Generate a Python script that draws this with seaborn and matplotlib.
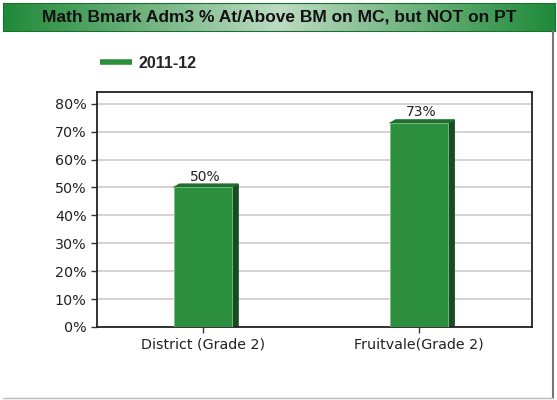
import pandas as pd
import matplotlib.pyplot as plt
import matplotlib.patches as mpatches
import numpy as np
import seaborn as sns

# Dados do gráfico
categorias = ['District (Grade 2)', 'Fruitvale(Grade 2)']
valores = [0.50, 0.73]
rotulos = ['50%', '73%']
serie = '2011-12'
titulo = 'Math Bmark Adm3 % At/Above BM on MC, but NOT on PT'

df = pd.DataFrame({'categoria': categorias, 'valor': valores})

sns.set_style("white")
plt.rcParams['font.family'] = ['DejaVu Sans']

fig = plt.figure(figsize=(5.57, 4.0), dpi=100)
ax = fig.add_axes([97 / 557, 1 - 327 / 400, 435 / 557, 235 / 400])

verde = '#2b8f3e'
lateral = '#174d20'

sns.barplot(x='categoria', y='valor', data=df, color=verde, width=0.27,
            saturation=1, ax=ax, edgecolor='#7fc08a', linewidth=0.6, zorder=3)

# Lado "3D" de cada barra, calculado a partir das barras desenhadas
prof = 0.028
for p, r in zip(ax.patches, rotulos):
    x0, w, h = p.get_x(), p.get_width(), p.get_height()
    side = mpatches.Polygon([[x0 + w, 0], [x0 + w + prof, 0.004], [x0 + w + prof, h + 0.012],
                             [x0 + w, h]], closed=True, color=lateral, zorder=2)
    ax.add_patch(side)
    top = mpatches.Polygon([[x0, h], [x0 + prof, h + 0.012], [x0 + w + prof, h + 0.012],
                            [x0 + w, h]], closed=True, color='#1f6e2e', zorder=2)
    ax.add_patch(top)
    ax.text(x0 + w / 2 + 0.01, h + 0.014, r, ha='center', va='bottom', fontsize=10, color='#222222')

ax.set_ylim(0, 0.842)
ax.set_xlim(-0.49, 1.523)
ax.set_yticks(np.arange(0, 0.81, 0.1))
ax.set_yticklabels([f'{int(round(v * 100))}%' for v in np.arange(0, 0.81, 0.1)], fontsize=10.3)
ax.set_xticks(range(len(categorias)))
ax.set_xticklabels(categorias, fontsize=10.3)
ax.set_xlabel('')
ax.set_ylabel('')
ax.yaxis.grid(True, color='#cccccc', linewidth=1.2, zorder=0)
ax.set_axisbelow(True)
for s in ax.spines.values():
    s.set_color('#222222')
    s.set_linewidth(1.3)
ax.tick_params(axis='both', which='both', length=4, width=1, color='#333333', left=True, bottom=True,
               labelcolor='#222222')

# Legenda
leg_handle = plt.Line2D([], [], color=verde, linewidth=4, solid_capstyle='butt')
fig.legend([leg_handle], [serie], loc='center left', bbox_to_anchor=(86 / 557, 1 - 63 / 400),
           frameon=False, prop={'family': 'Liberation Sans', 'weight': 'bold', 'size': 11.5},
           handlelength=2.0, handletextpad=0.4)

# Faixa do título em degradê verde
tax = fig.add_axes([3 / 557, 1 - 31 / 400, 552 / 557, 28 / 400])
grad = np.linspace(0, 1, 256)
grad = np.abs(grad - 0.5) * 2
tax.imshow(grad[np.newaxis, :], aspect='auto', cmap=sns.light_palette('#1f8a38', as_cmap=True),
           vmin=-0.3, vmax=1.0, extent=[0, 1, 0, 1])
tax.set_xticks([])
tax.set_yticks([])
for s in tax.spines.values():
    s.set_color('#1c6e2e')
tax.text(0.5, 0.5, titulo, ha='center', va='center', fontsize=12.5, fontweight='bold',
         family='Liberation Sans', color='#111111', transform=tax.transAxes)

# Moldura cinza
fig.add_artist(plt.Line2D([553 / 557, 553 / 557], [1 - 31 / 400, 1 - 398 / 400],
                          color='#777777', linewidth=1.5))
fig.add_artist(plt.Line2D([3 / 557, 553 / 557], [1 - 398 / 400, 1 - 398 / 400],
                          color='#bbbbbb', linewidth=1))

plt.savefig('out.png', dpi=100)
